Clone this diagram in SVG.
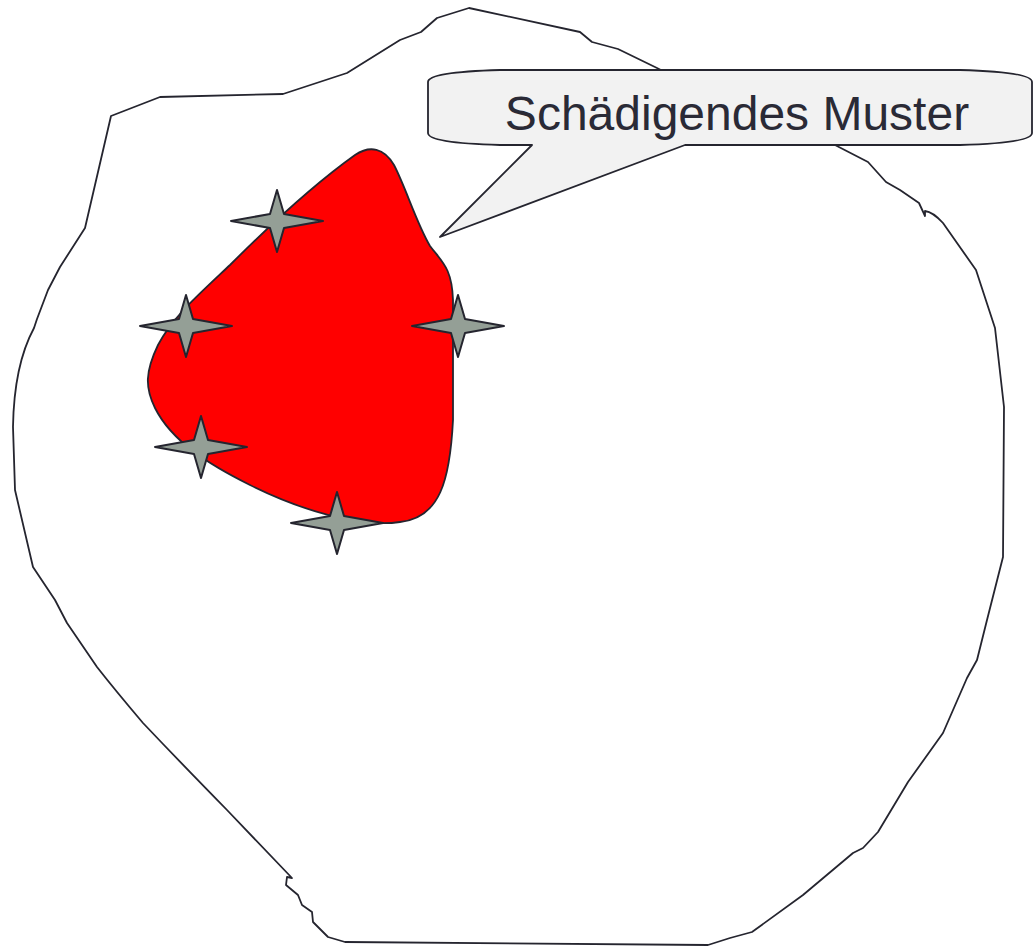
<svg xmlns="http://www.w3.org/2000/svg" width="1034" height="947" viewBox="0 0 1034 947">
<defs>
<style>
.ln{fill:none;stroke:#25252f;stroke-width:1.8;stroke-linejoin:round;stroke-linecap:round}
.blob{fill:#ff0000;stroke:#25252f;stroke-width:1.8}
.star{fill:#949f96;stroke:#25252f;stroke-width:2;stroke-linejoin:round}
.call{fill:#f2f2f2;stroke:#25252f;stroke-width:1.8;stroke-linejoin:round}
.lbl{font-family:"Liberation Sans",Arial,sans-serif;font-size:48px;fill:#2a2a36}
</style>
<path id="st" d="M0,-31 L7,-7 L46,0 L7,7 L0,31 L-7,7 L-46,0 L-7,-7 Z"/>
</defs>
<rect width="1034" height="947" fill="#ffffff"/>
<g id="outline">
<path class="ln" d="M469,8 L580,32 L592,42 L618,49 L657,68 L700,90 L835,145 L868,162 L886,182 L900,190 L919,203 L925,216 L925,211 Q933,212 943,223 L976,270 L995,328 L1004,407 L1003,557 L987,620 L977,660 L967,678 L943,733 L908,782 L878,832 L863,848 L853,853 L803,895 L752,932 L730,938 L708,945 L345,942 L328,937 L313,922 L312,912 L302,905 L298,895 L286,885 L287,877 L292,878 L227,810 Q180,762 143,723 Q115,690 97,667 L67,623 L55,600 L33,567 L15,490 L13,427 Q14,365 34,328 L37,319 L48,290 L60,267 L85,228 L111,116 L160,97 L283,94 L347,73 L400,40 L421,32 L437,18 Z"/>
</g>
<g id="pattern">
<path class="blob" d="M355,155 C370,145 384,148 394,165 C406,188 416,222 430,246 C442,262 452,268 453,300 L453,420 C450,480 440,518 400,522 C360,528 300,510 250,485 C210,465 172,442 155,408 C145,388 145,372 158,345 C172,318 195,298 230,265 C280,215 320,180 355,155 Z"/>
</g>
<g id="stars">
<use href="#st" class="star" x="277" y="221"/>
<use href="#st" class="star" x="186" y="326"/>
<use href="#st" class="star" x="458" y="326"/>
<use href="#st" class="star" x="201" y="447"/>
<use href="#st" class="star" x="337" y="523"/>
</g>
<g id="callout">
<path class="call" d="M428,82 Q428,72 500,70 L960,70 Q1032,72 1032,82 L1032,133 Q1032,143 960,145 L685,145 L440,237 L532,145 L500,145 Q428,143 428,133 Z"/>
<text class="lbl" x="737" y="130" text-anchor="middle">Schädigendes Muster</text>
</g>
</svg>
